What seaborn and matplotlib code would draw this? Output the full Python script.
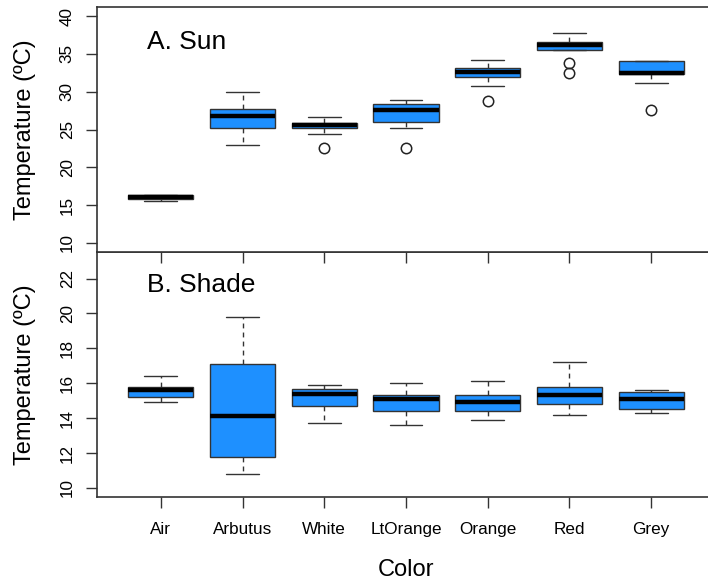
import numpy as np
import pandas as pd
import matplotlib
matplotlib.use("Agg")
import matplotlib.pyplot as plt
import seaborn as sns

colors = ["Air", "Arbutus", "White", "LtOrange", "Orange", "Red", "Grey"]

# A. Sun: lower whisker, Q1, median, Q3, upper whisker, outliers
sun_lo = [15.6, 23.0, 24.4, 25.2, 30.8, 35.55, 31.2]
sun_q1 = [15.75, 25.2, 25.2, 26.05, 32.0, 35.55, 32.3]
sun_med = [16.05, 26.8, 25.6, 27.6, 32.6, 36.2, 32.45]
sun_q3 = [16.3, 27.7, 25.9, 28.4, 33.15, 36.55, 34.05]
sun_hi = [16.3, 29.9, 26.6, 28.9, 34.2, 37.8, 34.1]
sun_out = [[], [], [22.5], [22.5], [28.8], [32.45, 33.85], [27.6]]

# B. Shade
shade_lo = [14.9, 10.8, 13.7, 13.6, 13.9, 14.2, 14.3]
shade_q1 = [15.2, 11.8, 14.7, 14.4, 14.4, 14.8, 14.5]
shade_med = [15.6, 14.1, 15.4, 15.1, 14.9, 15.35, 15.1]
shade_q3 = [15.8, 17.1, 15.65, 15.3, 15.3, 15.8, 15.5]
shade_hi = [16.4, 19.8, 15.9, 16.0, 16.1, 17.2, 15.6]
shade_out = [[], [], [], [], [], [], []]


def to_long(lo, q1, med, q3, hi, outs):
    # 9 points per group so the quartiles land exactly on the read values
    rows = []
    for i, c in enumerate(colors):
        low = (list(outs[i]) + [lo[i], lo[i]])[:2]
        vals = low + [q1[i], q1[i], med[i], q3[i], q3[i], hi[i], hi[i]]
        rows += [(c, v) for v in vals]
    return pd.DataFrame(rows, columns=["Color", "Temp"])


sun = to_long(sun_lo, sun_q1, sun_med, sun_q3, sun_hi, sun_out)
shade = to_long(shade_lo, shade_q1, shade_med, shade_q3, shade_hi, shade_out)

sns.set_style("white")
plt.rcParams["font.family"] = ["Liberation Sans", "DejaVu Sans"]
plt.rcParams["text.color"] = "black"
plt.rcParams["xtick.labelcolor"] = "black"
plt.rcParams["ytick.labelcolor"] = "black"

fig = plt.figure(figsize=(7.08, 5.82), dpi=100)
ax1 = fig.add_axes([97 / 708, 1 - 252 / 582, 618 / 708, 245 / 582])
ax2 = fig.add_axes([97 / 708, 1 - 497 / 582, 618 / 708, 245 / 582])
ax1.set_zorder(3)

edge = "#333333"
box_kw = dict(
    order=colors, color="#1E90FF", linecolor=edge, linewidth=1.0, width=0.8,
    saturation=1,
    medianprops=dict(color="black", linewidth=3.2),
    whiskerprops=dict(color=edge, linestyle=(0, (3.5, 3)), linewidth=1.0),
    capprops=dict(color=edge, linewidth=1.0),
    flierprops=dict(marker="o", markerfacecolor="none", markeredgecolor="#222222",
                    markersize=7.5, markeredgewidth=1.1),
)

sns.boxplot(data=sun, x="Color", y="Temp", ax=ax1, **box_kw)
sns.boxplot(data=shade, x="Color", y="Temp", ax=ax2, **box_kw)

ax1.set_ylim(8.8, 41.2)
ax1.set_yticks([10, 15, 20, 25, 30, 35, 40])
ax2.set_ylim(9.48, 23.52)
ax2.set_yticks([10, 12, 14, 16, 18, 20, 22])

for ax in (ax1, ax2):
    ax.set_xlim(-0.78, 6.78)
    ax.set_xticks(range(len(colors)))
    ax.set_xlabel("")
    ax.set_ylabel("")
    for s in ax.spines.values():
        s.set_visible(True)
        s.set_color(edge)
        s.set_linewidth(1.2)
    ax.tick_params(axis="both", direction="out", length=8, width=1.0, color=edge,
                   labelsize=12.3, labelcolor="black", left=True, bottom=True)
    ax.tick_params(axis="y", pad=8)
    ax.tick_params(axis="x", pad=10)
    for lab in ax.get_yticklabels():
        lab.set_rotation(90)
        lab.set_va("center")

ax1.set_xticklabels([])
ax2.set_xticklabels(colors)

ax1.text(0.081, 0.857, "A. Sun", transform=ax1.transAxes, fontsize=19, va="center",
         color="black")
ax2.text(0.081, 0.865, "B. Shade", transform=ax2.transAxes, fontsize=19, va="center",
         color="black")

fig.text(25 / 708, 1 - 130 / 582, "Temperature (ºC)", rotation=90, fontsize=17,
         ha="center", va="center", color="black")
fig.text(25 / 708, 1 - 375 / 582, "Temperature (ºC)", rotation=90, fontsize=17,
         ha="center", va="center", color="black")
fig.text(406 / 708, 1 - 570 / 582, "Color", fontsize=17, ha="center", va="center",
         color="black")

fig.savefig("out.png", dpi=100)
